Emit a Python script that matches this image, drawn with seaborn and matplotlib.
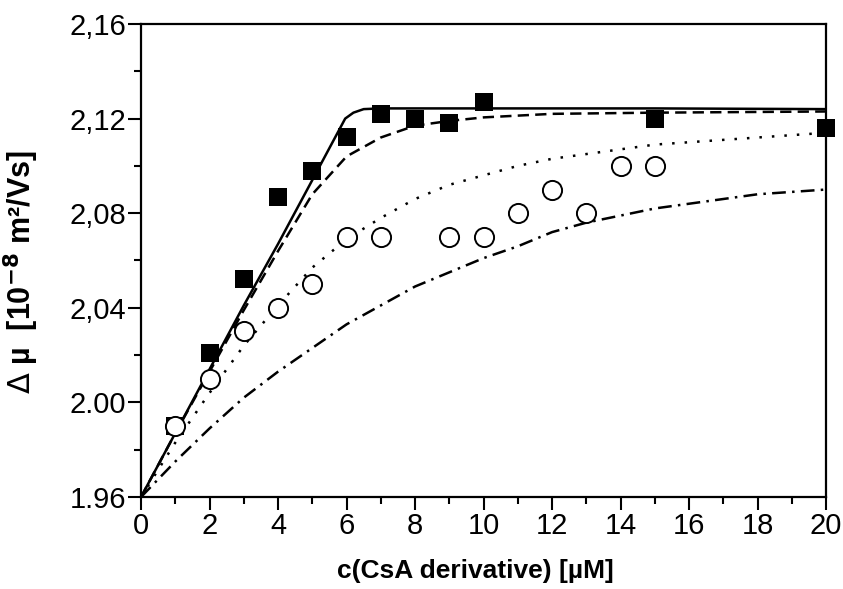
import matplotlib
matplotlib.use("Agg")
import matplotlib.pyplot as plt
import seaborn as sns
from matplotlib.ticker import MultipleLocator, FixedLocator, FixedFormatter

# measured points (squares and circles)
conc_sq = [1, 2, 3, 4, 5, 6, 7, 8, 9, 10, 15, 20]
mu_sq = [1.990, 2.021, 2.052, 2.087, 2.098, 2.112, 2.122, 2.120, 2.118, 2.127, 2.120, 2.116]

conc_ci = [1, 2, 3, 4, 5, 6, 7, 9, 10, 11, 12, 13, 14, 15]
mu_ci = [1.990, 2.010, 2.030, 2.040, 2.050, 2.070, 2.070, 2.070, 2.070, 2.080, 2.090, 2.080, 2.100, 2.100]

# fitted curves
x_solid = [0, 1, 2, 3, 4, 5, 5.96, 6.2, 6.5, 7, 10, 15, 20]
y_solid = [1.960, 1.987, 2.014, 2.041, 2.067, 2.094, 2.120, 2.1225, 2.124, 2.1243, 2.1243, 2.1243, 2.1240]

x_dash = [0, 1, 2, 3, 4, 5, 6, 7, 8, 9, 10, 12, 15, 20]
y_dash = [1.960, 1.987, 2.013, 2.039, 2.064, 2.088, 2.104, 2.112, 2.117, 2.119, 2.1205, 2.122, 2.1225, 2.123]

x_dot = [0, 1, 2, 3, 4, 5, 6, 7, 8, 9, 10, 11, 12, 13, 14, 15, 16, 17, 18, 19, 20]
y_dot = [1.960, 1.983, 2.004, 2.024, 2.041, 2.057, 2.069, 2.078, 2.086, 2.092, 2.096, 2.100,
         2.103, 2.105, 2.107, 2.109, 2.110, 2.111, 2.112, 2.113, 2.114]

x_dd = [0, 1, 2, 3, 4, 5, 6, 7, 8, 9, 10, 11, 12, 13, 14, 15, 16, 17, 18, 19, 20]
y_dd = [1.960, 1.975, 1.989, 2.002, 2.013, 2.023, 2.033, 2.041, 2.049, 2.055, 2.061, 2.066,
        2.072, 2.076, 2.079, 2.082, 2.084, 2.086, 2.088, 2.089, 2.090]

y_ticks = [1.96, 2.00, 2.04, 2.08, 2.12, 2.16]
y_tick_labels = ["1.96", "2.00", "2,04", "2,08", "2,12", "2,16"]

sns.set_style("ticks")
plt.rcParams["font.family"] = ["Liberation Sans", "DejaVu Sans"]
plt.rcParams["text.color"] = "black"
plt.rcParams["axes.labelcolor"] = "black"

fig = plt.figure(figsize=(8.43, 5.89), dpi=100)
ax = fig.add_axes([0.1673, 0.1562, 0.8127, 0.8031])

lw = 1.8
sns.lineplot(x=x_solid, y=y_solid, color="black", lw=lw, ax=ax)
sns.lineplot(x=x_dash, y=y_dash, color="black", lw=lw, linestyle=(0, (4.5, 2.5)), ax=ax)
sns.lineplot(x=x_dot, y=y_dot, color="black", lw=lw, linestyle=(0, (1, 4)), ax=ax)
sns.lineplot(x=x_dd, y=y_dd, color="black", lw=lw, linestyle=(0, (5.5, 2.5, 1, 2.5)), ax=ax)

sns.scatterplot(x=conc_sq, y=mu_sq, marker="s", s=150, color="black", edgecolor="black",
                linewidth=0, ax=ax, zorder=5, clip_on=False)
sns.scatterplot(x=conc_ci, y=mu_ci, marker="o", s=190, facecolor="white", edgecolor="black",
                linewidth=1.4, ax=ax, zorder=6, clip_on=False)

ax.set_xlim(0, 20)
ax.set_ylim(1.96, 2.16)
ax.xaxis.set_major_locator(MultipleLocator(2))
ax.xaxis.set_minor_locator(MultipleLocator(1))
ax.yaxis.set_major_locator(FixedLocator(y_ticks))
ax.yaxis.set_major_formatter(FixedFormatter(y_tick_labels))
ax.yaxis.set_minor_locator(MultipleLocator(0.02))

for sp in ax.spines.values():
    sp.set_linewidth(1.6)
    sp.set_color("black")
ax.tick_params(which="major", direction="out", length=9.5, width=1.5, labelsize=21, colors="black", pad=1.5)
ax.tick_params(which="minor", direction="out", length=5, width=1.5, colors="black")

ax.set_xlabel("c(CsA derivative) [µM]", fontsize=19, fontweight="bold")
ax.xaxis.set_label_coords(0.4876, -0.131)
ax.set_ylabel(r"$\Delta$ µ  [10$^{\mathbf{-8}}$ m²/Vs]", fontsize=22, fontweight="bold")
ax.yaxis.set_label_coords(-0.146, 0.476)

fig.savefig("out.png", dpi=100)
